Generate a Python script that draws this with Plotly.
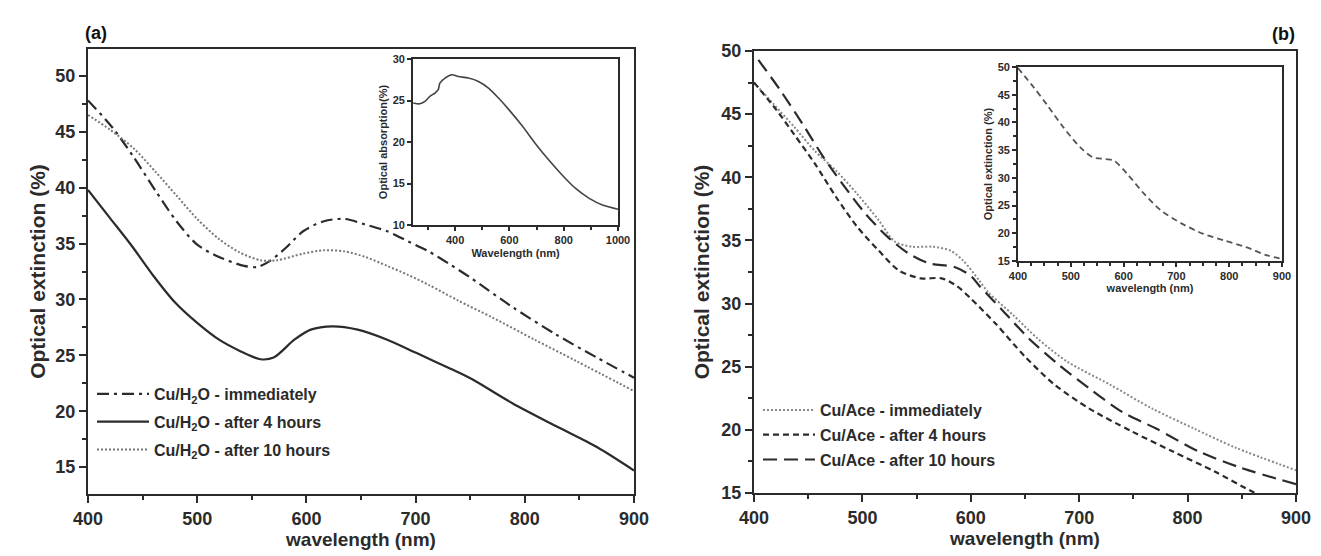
import plotly.graph_objects as go

W, H = 1321, 556

# ---------------- Panel (a) data ----------------
wl_a_imm = [400, 423, 442, 462, 481, 500, 520, 543, 555, 566, 581, 597, 616, 635, 654, 674, 693, 712, 732, 751, 789, 828, 866, 900]
ext_a_imm = [47.8, 45.3, 42.7, 39.7, 37.0, 34.9, 33.8, 33.0, 32.9, 33.4, 34.6, 36.1, 37.0, 37.2, 36.7, 36.1, 35.2, 34.3, 33.1, 31.9, 29.3, 26.9, 24.8, 23.0]

wl_a_4h = [400, 420, 440, 460, 480, 500, 520, 539, 558, 570, 589, 604, 624, 647, 674, 701, 732, 751, 789, 828, 866, 900]
ext_a_4h = [39.8, 37.3, 34.8, 32.1, 29.7, 27.9, 26.4, 25.4, 24.65, 24.8, 26.4, 27.3, 27.6, 27.3, 26.4, 25.2, 23.8, 22.9, 20.7, 18.7, 16.8, 14.7]

wl_a_10h = [400, 420, 442, 462, 481, 500, 520, 539, 558, 573, 597, 616, 635, 654, 674, 693, 712, 739, 770, 809, 847, 900]
ext_a_10h = [46.5, 45.2, 43.5, 41.4, 39.3, 37.2, 35.4, 34.2, 33.5, 33.5, 34.1, 34.4, 34.3, 33.8, 33.0, 32.2, 31.3, 29.9, 28.4, 26.4, 24.5, 21.8]

# inset (a): optical absorption
wl_ia = [246, 270, 289, 307, 326, 338, 344, 363, 388, 412, 449, 486, 523, 560, 598, 647, 696, 746, 795, 844, 894, 943, 1000]
abs_ia = [24.7, 24.6, 24.9, 25.5, 25.9, 26.3, 27.1, 27.7, 28.1, 27.9, 27.7, 27.3, 26.5, 25.3, 23.9, 21.95, 19.8, 17.8, 16.0, 14.4, 13.2, 12.4, 11.9]

# ---------------- Panel (b) data ----------------
wl_b_imm = [400, 418, 437, 456, 476, 495, 515, 530, 546, 565, 581, 593, 608, 616, 639, 662, 689, 728, 767, 806, 844, 900]
ext_b_imm = [47.5, 45.8, 44.0, 42.1, 40.5, 38.7, 36.6, 34.9, 34.5, 34.5, 34.2, 33.4, 31.8, 30.9, 29.1, 27.2, 25.4, 23.6, 21.7, 20.1, 18.6, 16.8]

wl_b_4h = [400, 421, 437, 456, 476, 495, 515, 534, 554, 573, 587, 600, 623, 650, 677, 709, 748, 786, 825, 860, 880]
ext_b_4h = [47.5, 45.3, 43.4, 41.1, 38.4, 36.1, 34.2, 32.6, 32.0, 32.0, 31.4, 30.4, 28.4, 25.8, 23.6, 21.7, 19.9, 18.3, 16.7, 15.1, 14.4]

wl_b_10h = [404, 425, 445, 464, 484, 503, 523, 542, 561, 585, 600, 608, 631, 654, 682, 709, 740, 771, 810, 849, 900]
ext_b_10h = [49.3, 46.8, 44.2, 41.6, 39.2, 37.1, 35.3, 34.0, 33.2, 32.9, 32.2, 31.4, 29.3, 27.2, 25.1, 23.3, 21.4, 20.1, 18.3, 17.0, 15.7]

# inset (b)
wl_ib = [400, 430, 454, 486, 518, 542, 566, 582, 607, 639, 671, 711, 751, 791, 832, 872, 900]
ext_ib = [49.8, 46.3, 43.3, 39.1, 35.5, 33.7, 33.4, 33.1, 30.7, 27.1, 24.1, 21.7, 19.9, 18.7, 17.5, 16.0, 15.4]

FONT = "Liberation Sans, Arial, sans-serif"
INK = "#2b2b2b"


def px_x(a, b):
    return [a / W, b / W]


def px_y(top, bottom):
    return [1 - bottom / H, 1 - top / H]


fig = go.Figure()


def add(x, y, name, xa, ya, dash, color=INK, width=2.2, legend=None, show=True):
    fig.add_trace(go.Scatter(
        x=x, y=y, name=name, mode="lines", xaxis=xa, yaxis=ya,
        line=dict(color=color, width=width, dash=dash, shape="spline", smoothing=0.8),
        showlegend=show, legend=legend, legendgroup=name, hoverinfo="skip"))


add(wl_a_imm, ext_a_imm, "Cu/H<sub>2</sub>O - immediately", "x", "y", "12px,5px,3px,5px", legend="legend")
add(wl_a_4h, ext_a_4h, "Cu/H<sub>2</sub>O - after 4 hours", "x", "y", "solid", legend="legend")
add(wl_a_10h, ext_a_10h, "Cu/H<sub>2</sub>O - after 10 hours", "x", "y", "2px,2px", color="#777777", width=2.0, legend="legend")
add(wl_ia, abs_ia, "absorption", "x2", "y2", "solid", color="#444444", width=1.6, show=False)

add(wl_b_imm, ext_b_imm, "Cu/Ace - immediately", "x3", "y3", "2px,2px", color="#888888", width=2.0, legend="legend2")
add(wl_b_4h, ext_b_4h, "Cu/Ace - after 4 hours", "x3", "y3", "6px,4px", legend="legend2")
add(wl_b_10h, ext_b_10h, "Cu/Ace - after 10 hours", "x3", "y3", "14px,7px", legend="legend2")
add(wl_ib, ext_ib, "inset", "x4", "y4", "6px,4px", color="#555555", width=1.8, show=False)


def axis(domain, rng, dtick, minor_dtick, size, ticklen=7, lw=2, title=None, tsize=20, standoff=6, anchor=None, tick0=None):
    d = dict(
        domain=domain, range=rng, dtick=dtick, showgrid=False, zeroline=False, automargin=False,
        showline=True, linecolor=INK, linewidth=lw, mirror=True,
        ticks="outside", ticklen=ticklen, tickwidth=lw, tickcolor=INK,
        tickfont=dict(family=FONT, size=size, color=INK, weight="bold"),
        minor=dict(dtick=minor_dtick, ticks="outside", ticklen=max(3, ticklen // 2 + 1), tickwidth=lw, tickcolor=INK),
        anchor=anchor,
    )
    if tick0 is not None:
        d["tick0"] = tick0
    if title:
        d["title"] = dict(text=title, font=dict(family=FONT, size=tsize, color=INK, weight="bold"), standoff=standoff)
    return d


fig.update_layout(
    width=W, height=H, margin=dict(l=0, r=0, t=0, b=0, autoexpand=False),
    paper_bgcolor="white", plot_bgcolor="rgba(0,0,0,0)",
    xaxis=axis(px_x(80, 626), [400, 900], 100, 50, 18, title="wavelength (nm)", tsize=19, standoff=3, anchor="y"),
    yaxis=axis(px_y(41, 486), [12.6, 52.4], 5, 2.5, 18, title="Optical extinction (%)", tsize=21, standoff=4, anchor="x", tick0=0),
    xaxis2=axis(px_x(405, 610), [245, 1000], 200, 100, 11, ticklen=4, lw=1.8, title="Wavelength (nm)", tsize=11, standoff=4, anchor="y2", tick0=400),
    yaxis2=axis(px_y(51, 217), [10, 30], 5, 5, 11, ticklen=4, lw=1.8, title="Optical absorption(%)", tsize=11, standoff=3, anchor="x2"),
    xaxis3=axis(px_x(746, 1288), [400, 900], 100, 50, 18, title="wavelength (nm)", tsize=19, standoff=3, anchor="y3"),
    yaxis3=axis(px_y(43, 485), [15, 50], 5, 2.5, 18, title="Optical extinction (%)", tsize=21, standoff=6, anchor="x3"),
    xaxis4=axis(px_x(1010, 1274), [400, 900], 100, 25, 11, ticklen=4, lw=1.8, title="wavelength (nm)", tsize=11, standoff=3, anchor="y4"),
    yaxis4=axis(px_y(59, 253), [15, 50], 5, 2.5, 11, ticklen=4, lw=1.8, title="Optical extinction (%)", tsize=11, standoff=3, anchor="x4"),
    legend=dict(x=84 / W, y=1 - 369 / H, xanchor="left", yanchor="top", bgcolor="rgba(0,0,0,0)",
                font=dict(family=FONT, size=16, color=INK, weight="bold"), itemwidth=52, tracegroupgap=4),
    legend2=dict(x=750 / W, y=1 - 385 / H, xanchor="left", yanchor="top", bgcolor="rgba(0,0,0,0)",
                 font=dict(family=FONT, size=16, color=INK, weight="bold"), itemwidth=52, tracegroupgap=1),
    showlegend=True,
    annotations=[
        dict(text="(a)", x=75 / W, y=1 - 25 / H, xref="paper", yref="paper", xanchor="left", yanchor="middle",
             showarrow=False, font=dict(family=FONT, size=18, color="#111111", weight="bold")),
        dict(text="(b)", x=1289 / W, y=1 - 26 / H, xref="paper", yref="paper", xanchor="right", yanchor="middle",
             showarrow=False, font=dict(family=FONT, size=18, color="#111111", weight="bold")),
    ],
)

# white backgrounds behind insets so main curves don't show through
for (x0, x1, y0, y1) in [(405, 610, 51, 217), (1010, 1274, 59, 253)]:
    fig.add_shape(type="rect", xref="paper", yref="paper", x0=x0 / W, x1=x1 / W, y0=1 - y1 / H, y1=1 - y0 / H,
                  fillcolor="white", line=dict(width=0), layer="below")

fig.write_html("out.html")
